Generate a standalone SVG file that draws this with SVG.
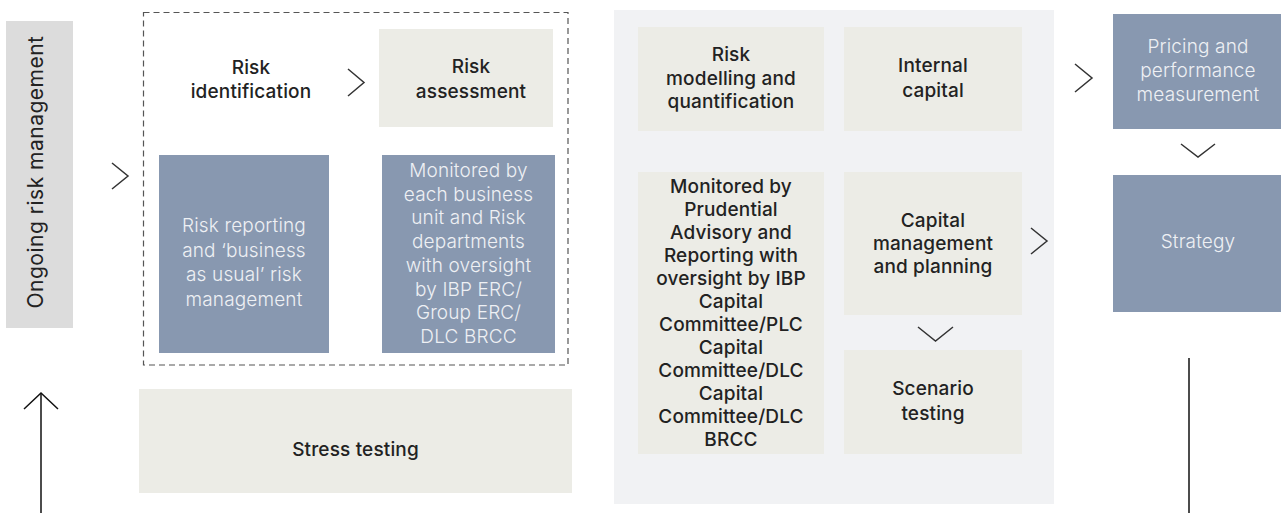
<svg xmlns="http://www.w3.org/2000/svg" width="1281" height="513" viewBox="0 0 1281 513">
  <style>
    .beige { fill: #ecece6; }
    .blue { fill: #8898b0; }
    .panel { fill: #f1f2f4; }
    .tag { fill: #dcdcdc; }
    .dark { font-family: Inter, "Liberation Sans", sans-serif; font-size: 19px; font-weight: 500; letter-spacing: 0.15px; fill: #222222; text-anchor: middle; }
    .light { font-family: Inter, "Liberation Sans", sans-serif; font-size: 19px; font-weight: 300; letter-spacing: 0.15px; fill: #eef0f4; text-anchor: middle; }
    .side { font-family: Inter, "Liberation Sans", sans-serif; font-size: 21px; font-weight: 400; letter-spacing: 0.5px; fill: #222222; text-anchor: middle; }
    .chev { fill: none; stroke: #333333; stroke-width: 1.5; stroke-linejoin: miter; }
    .line { fill: none; stroke: #111111; stroke-width: 1.5; }
    .dash { fill: none; stroke: #555555; stroke-width: 1.2; stroke-dasharray: 6 4; }
  </style>

  <!-- background panel for the capital block -->
  <rect class="panel" x="614" y="10" width="440" height="494"/>

  <!-- side label -->
  <g id="ongoing-risk-management">
    <rect class="tag" x="6" y="21" width="67" height="307"/>
    <text class="side" transform="translate(43,172) rotate(-90)">Ongoing risk management</text>
  </g>

  <!-- dashed grouping frame -->
  <rect class="dash" x="143.5" y="12.5" width="424.5" height="352.5"/>

  <g id="risk-identification">
    <text class="dark" x="251" y="74">Risk</text>
    <text class="dark" x="251" y="98">identification</text>
  </g>

  <g id="risk-assessment">
    <rect class="beige" x="379" y="29" width="174" height="98"/>
    <text class="dark" x="471" y="73">Risk</text>
    <text class="dark" x="471" y="98">assessment</text>
  </g>

  <g id="risk-reporting">
    <rect class="blue" x="159" y="155" width="170" height="198"/>
    <text class="light" x="244" y="232">Risk reporting</text>
    <text class="light" x="244" y="256.5">and ‘business</text>
    <text class="light" x="244" y="281">as usual’ risk</text>
    <text class="light" x="244" y="305.5">management</text>
  </g>

  <g id="monitored-business-units">
    <rect class="blue" x="382" y="155" width="173" height="198"/>
    <text class="light" x="468.5" y="177">Monitored by</text>
    <text class="light" x="468.5" y="200.7">each business</text>
    <text class="light" x="468.5" y="224.4">unit and Risk</text>
    <text class="light" x="468.5" y="248.1">departments</text>
    <text class="light" x="468.5" y="271.8">with oversight</text>
    <text class="light" x="468.5" y="295.5">by IBP ERC/</text>
    <text class="light" x="468.5" y="319.2">Group ERC/</text>
    <text class="light" x="468.5" y="342.9">DLC BRCC</text>
  </g>

  <g id="stress-testing">
    <rect class="beige" x="139" y="389" width="433" height="104"/>
    <text class="dark" x="355.5" y="456">Stress testing</text>
  </g>

  <g id="risk-modelling">
    <rect class="beige" x="638" y="27" width="186" height="104"/>
    <text class="dark" x="731" y="61">Risk</text>
    <text class="dark" x="731" y="84.5">modelling and</text>
    <text class="dark" x="731" y="108">quantification</text>
  </g>

  <g id="internal-capital">
    <rect class="beige" x="844" y="27" width="178" height="104"/>
    <text class="dark" x="933" y="72">Internal</text>
    <text class="dark" x="933" y="97">capital</text>
  </g>

  <g id="monitored-prudential">
    <rect class="beige" x="638" y="172" width="186" height="282"/>
    <text class="dark" x="731" y="193">Monitored by</text>
    <text class="dark" x="731" y="216">Prudential</text>
    <text class="dark" x="731" y="239">Advisory and</text>
    <text class="dark" x="731" y="262">Reporting with</text>
    <text class="dark" x="731" y="285">oversight by IBP</text>
    <text class="dark" x="731" y="308">Capital</text>
    <text class="dark" x="731" y="331">Committee/PLC</text>
    <text class="dark" x="731" y="354">Capital</text>
    <text class="dark" x="731" y="377">Committee/DLC</text>
    <text class="dark" x="731" y="400">Capital</text>
    <text class="dark" x="731" y="423">Committee/DLC</text>
    <text class="dark" x="731" y="446">BRCC</text>
  </g>

  <g id="capital-management">
    <rect class="beige" x="844" y="172" width="178" height="143"/>
    <text class="dark" x="933" y="227">Capital</text>
    <text class="dark" x="933" y="250">management</text>
    <text class="dark" x="933" y="273">and planning</text>
  </g>

  <g id="scenario-testing">
    <rect class="beige" x="844" y="350" width="178" height="104"/>
    <text class="dark" x="933" y="395">Scenario</text>
    <text class="dark" x="933" y="420">testing</text>
  </g>

  <g id="pricing-performance">
    <rect class="blue" x="1113" y="14" width="168" height="115"/>
    <text class="light" x="1198" y="53">Pricing and</text>
    <text class="light" x="1198" y="77">performance</text>
    <text class="light" x="1198" y="101">measurement</text>
  </g>

  <g id="strategy">
    <rect class="blue" x="1113" y="175" width="168" height="137"/>
    <text class="light" x="1198" y="248">Strategy</text>
  </g>

  <!-- flow chevrons and lines -->
  <g id="connectors">
    <polyline class="chev" points="112,163 128,176 112,189"/>
    <polyline class="chev" points="348,69 364,82.5 348,96"/>
    <polyline class="chev" points="1031,228 1047,241 1031,254"/>
    <polyline class="chev" points="1075,64 1092,78 1075,92"/>
    <polyline class="chev" points="918,327 935.5,341 953,327"/>
    <polyline class="chev" points="1181,144 1198,157 1215,144"/>
    <line class="line" x1="41" y1="394" x2="41" y2="513"/>
    <polyline class="line" points="24,409 41,393 58,409"/>
    <line class="line" x1="1189" y1="358" x2="1189" y2="513"/>
  </g>
</svg>
